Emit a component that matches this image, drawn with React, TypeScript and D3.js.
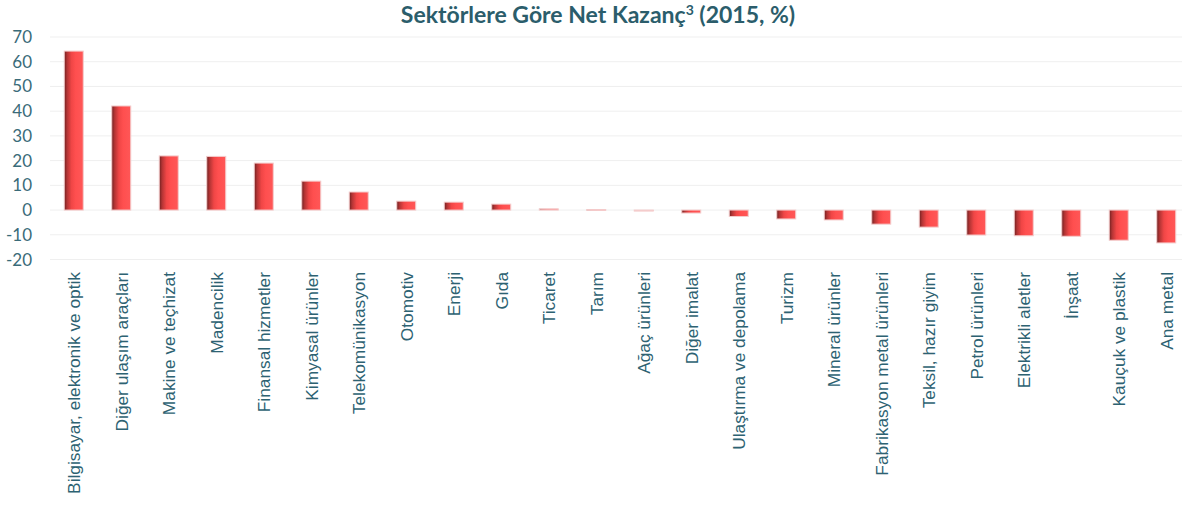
import * as d3 from "d3";

const sectors = [
  "Bilgisayar, elektronik ve optik",
  "Diğer ulaşım araçları",
  "Makine ve teçhizat",
  "Madencilik",
  "Finansal hizmetler",
  "Kimyasal ürünler",
  "Telekomünikasyon",
  "Otomotiv",
  "Enerji",
  "Gıda",
  "Ticaret",
  "Tarım",
  "Ağaç ürünleri",
  "Diğer imalat",
  "Ulaştırma ve depolama",
  "Turizm",
  "Mineral ürünler",
  "Fabrikasyon metal ürünleri",
  "Teksil, hazır giyim",
  "Petrol ürünleri",
  "Elektrikli aletler",
  "İnşaat",
  "Kauçuk ve plastik",
  "Ana metal",
];

const netGain = [
  64.3, 42.1, 21.9, 21.7, 19.0, 11.7, 7.3, 3.6, 3.2, 2.4, 0.5, 0.2, -0.4, -1.2, -2.6,
  -3.6, -4.0, -5.7, -6.9, -10.1, -10.4, -10.6, -12.2, -13.3,
];

const yTicks = [70, 60, 50, 40, 30, 20, 10, 0, -10, -20];

const W = 1184;
const H = 507;

export default function App() {
  const x = d3.scaleBand<string>().domain(sectors).range([50, 1190]).paddingInner(0.6).paddingOuter(0.3);
  const y = d3.scaleLinear().domain([-20, 70]).range([259.5, 37]);
  const gridRight = 1182;

  return (
    <div style={{ position: "absolute", left: 0, top: 0 }}>
      <svg width={W} height={H} viewBox={`0 0 ${W} ${H}`} style={{ display: "block", background: "#fff" }}>
        <defs>
          <linearGradient id="barGrad" x1="0" x2="1" y1="0" y2="0">
            <stop offset="0" stopColor="#6e2020" />
            <stop offset="0.15" stopColor="#b33434" />
            <stop offset="0.38" stopColor="#f04646" />
            <stop offset="0.6" stopColor="#ff4f4f" />
            <stop offset="1" stopColor="#ff5757" />
          </linearGradient>
        </defs>

        <text
          x={598}
          y={23}
          textAnchor="middle"
          fontFamily="Lato, 'Open Sans', sans-serif"
          fontWeight={700}
          fontSize={23}
          fill="#2b5d6b"
        >
          Sektörlere Göre Net Kazanç
          <tspan fontSize={14} dy={-8}>3</tspan>
          <tspan dy={8}> (2015, %)</tspan>
        </text>

        {/* gridlines */}
        {yTicks.map((t) => (
          <line key={t} x1={50} x2={gridRight} y1={y(t)} y2={y(t)} stroke="#efefef" strokeWidth={1} />
        ))}

        {/* y tick labels */}
        {yTicks.map((t) => (
          <text
            key={`l${t}`}
            x={32}
            y={y(t) + 6}
            textAnchor="end"
            fontFamily="Lato, sans-serif"
            fontSize={17}
            fill="#3a6b79"
          >
            {t}
          </text>
        ))}

        {/* bars */}
        {sectors.map((s, i) => {
          const v = netGain[i];
          const y0 = y(0);
          const y1 = y(v);
          return (
            <rect
              key={s}
              x={x(s)}
              y={Math.min(y0, y1)}
              width={x.bandwidth()}
              height={Math.max(Math.abs(y1 - y0), 0.8)}
              fill="url(#barGrad)"
              stroke="#f4cccc"
              strokeWidth={1}
            />
          );
        })}

        {/* category labels */}
        {sectors.map((s) => {
          const cx = (x(s) as number) + x.bandwidth() / 2 + 6.5;
          return (
            <text
              key={`c${s}`}
              transform={`translate(${cx},272) rotate(-90)`}
              textAnchor="end"
              fontFamily="Liberation Sans, Arial, sans-serif"
              fontSize={17.3}
              fill="#2d6272"
            >
              {s}
            </text>
          );
        })}
      </svg>
    </div>
  );
}
